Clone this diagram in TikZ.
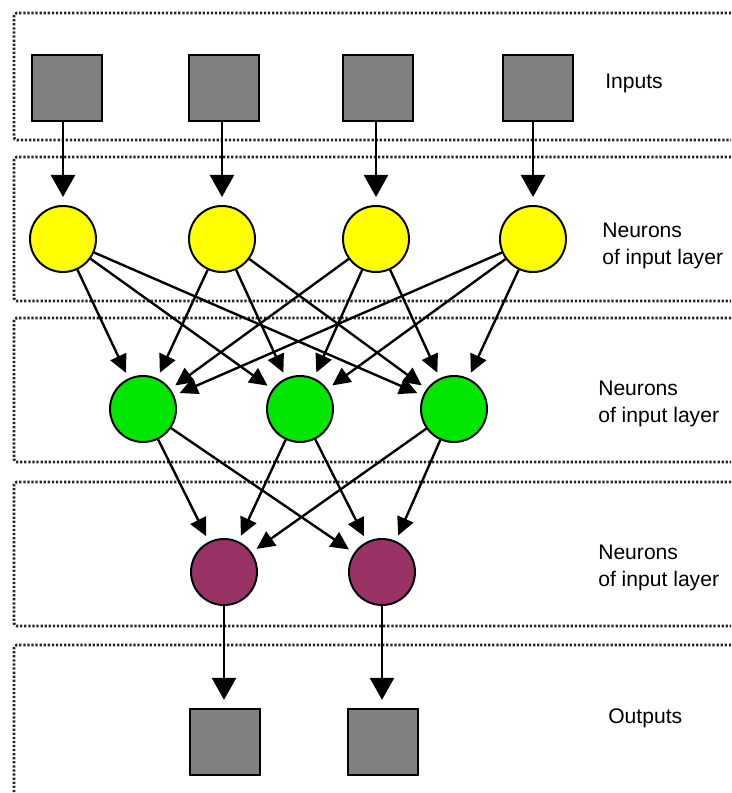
\documentclass[tikz,border=0pt]{standalone}
\usepackage{fontspec}
\setmainfont{Liberation Sans}
\usetikzlibrary{arrows.meta,positioning}
\definecolor{boxgray}{HTML}{808080}
\definecolor{inyellow}{HTML}{FFFF00}
\definecolor{midgreen}{HTML}{00E600}
\definecolor{outpurple}{HTML}{993366}
\tikzset{
  inbox/.style={
    draw=black,
    fill=boxgray,
    line width=1.6pt,
    minimum width=1.75cm,
    minimum height=1.65cm,
    inner sep=0pt
  },
  neuron/.style={
    circle,
    draw=black,
    line width=1.4pt,
    minimum size=1.65cm,
    inner sep=0pt
  },
  inneuron/.style={neuron,fill=inyellow},
  hidneuron/.style={neuron,fill=midgreen},
  outneuron/.style={neuron,fill=outpurple},
  layerlabel/.style={
    anchor=west,
    align=left,
    inner sep=0pt,
    font=\fontsize{15}{19.7}\selectfont
  },
  band/.style={
    draw=black!85,
    line width=2pt,
    dash pattern=on 1.6pt off 1.3pt,
    rounded corners=2pt
  },
  feed/.style={
    -{Triangle[length=5.5mm,width=6mm]},
    line width=1.8pt,
    shorten >=2mm
  },
  link/.style={
    -{Triangle[length=4.5mm,width=4.3mm]},
    line width=1.7pt,
    shorten >=1.5mm
  }
}
\begin{document}
\begin{tikzpicture}[x=0.025cm,y=-0.025cm]
  \useasboundingbox (0,0) rectangle (731,793);

  % Dotted bands, open on the right.
  \draw[band] (731,13) -- (14,13) -- (14,140) -- (731,140);
  \draw[band] (731,157) -- (14,157) -- (14,301) -- (731,301);
  \draw[band] (731,318) -- (14,318) -- (14,462) -- (731,462);
  \draw[band] (731,482) -- (14,482) -- (14,626) -- (731,626);
  \draw[band] (731,645) -- (14,645) -- (14,793);

  % Inputs.
  \node[inbox] (in1) at (67,88) {};
  \node[inbox] (in2) at (224,88) {};
  \node[inbox] (in3) at (378,88) {};
  \node[inbox] (in4) at (538,88) {};

  % Neurons of the three layers.
  \node[inneuron] (y1) at (63,239) {};
  \node[inneuron] (y2) at (222,239) {};
  \node[inneuron] (y3) at (376,239) {};
  \node[inneuron] (y4) at (533,239) {};

  \node[hidneuron] (g1) at (143,409) {};
  \node[hidneuron] (g2) at (300,409) {};
  \node[hidneuron] (g3) at (454,409) {};

  \node[outneuron] (p1) at (224,572) {};
  \node[outneuron] (p2) at (382,572) {};

  % Outputs.
  \node[inbox] (out1) at (225,742) {};
  \node[inbox] (out2) at (383,742) {};

  % Labels on the right.
  \node[layerlabel] (lblin) at (605,83) {Inputs};
  \node[layerlabel] (lbly) at (602,246) {Neurons\\of input layer};
  \node[layerlabel] (lblg) at (598,404) {Neurons\\of input layer};
  \node[layerlabel] (lblp) at (598,568) {Neurons\\of input layer};
  \node[layerlabel] (lblout) at (608,718) {Outputs};

  % Connections.
  \draw[feed] (y1 |- in1.south) -- (y1);
  \draw[feed] (y2 |- in2.south) -- (y2);
  \draw[feed] (y3 |- in3.south) -- (y3);
  \draw[feed] (y4 |- in4.south) -- (y4);

  \draw[link] (y1) -- (g1);
  \draw[link] (y1) -- (g2);
  \draw[link] (y1) -- (g3);
  \draw[link] (y2) -- (g1);
  \draw[link] (y2) -- (g2);
  \draw[link] (y2) -- (g3);
  \draw[link] (y3) -- (g1);
  \draw[link] (y3) -- (g2);
  \draw[link] (y3) -- (g3);
  \draw[link] (y4) -- (g1);
  \draw[link] (y4) -- (g2);
  \draw[link] (y4) -- (g3);

  \draw[link] (g1) -- (p1);
  \draw[link] (g1) -- (p2);
  \draw[link] (g2) -- (p1);
  \draw[link] (g2) -- (p2);
  \draw[link] (g3) -- (p1);
  \draw[link] (g3) -- (p2);

  \draw[feed] (p1) -- (p1 |- out1.north);
  \draw[feed] (p2) -- (p2 |- out2.north);

\end{tikzpicture}
\end{document}
